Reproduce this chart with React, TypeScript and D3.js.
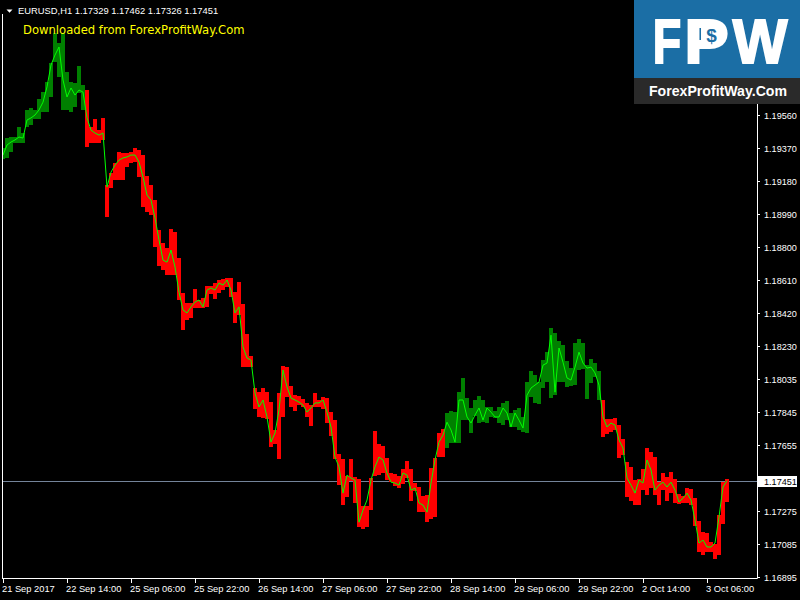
import React from "react";
import * as d3 from "d3";

// ---- data (EURUSD H1) ----
const highs = [
  1.19370, 1.19427, 1.19433, 1.19433, 1.19491, 1.19456, 1.19589, 1.19600, 1.19589, 1.19652,
  1.19692, 1.19750, 1.19860, 1.20033, 1.19975, 1.20033, 1.19807, 1.19750, 1.19745, 1.19842,
  1.19733, 1.19704, 1.19491, 1.19537, 1.19473, 1.19543, 1.19156, 1.19225, 1.19283, 1.19346,
  1.19341, 1.19341, 1.19346, 1.19370, 1.19358, 1.19329, 1.19207, 1.19156, 1.19069, 1.18896,
  1.18822, 1.18793, 1.18902, 1.18884, 1.18735, 1.18533, 1.18476, 1.18476, 1.18556, 1.18493,
  1.18504, 1.18573, 1.18573, 1.18591, 1.18608, 1.18614, 1.18620, 1.18620, 1.18538, 1.18596,
  1.18470, 1.18296, 1.18169, 1.17985, 1.17961, 1.17985, 1.17961, 1.17904, 1.17743, 1.17956,
  1.18111, 1.18106, 1.17996, 1.17944, 1.17938, 1.17921, 1.17899, 1.17887, 1.17956, 1.17916,
  1.17933, 1.17927, 1.17846, 1.17800, 1.17604, 1.17575, 1.17477, 1.17575, 1.17472, 1.17460,
  1.17304, 1.17304, 1.17466, 1.17737, 1.17662, 1.17650, 1.17581, 1.17495, 1.17489, 1.17477,
  1.17518, 1.17564, 1.17518, 1.17437, 1.17414, 1.17361, 1.17367, 1.17524, 1.17581, 1.17726,
  1.17748, 1.17841, 1.17852, 1.17846, 1.17961, 1.18043, 1.17927, 1.17870, 1.17916, 1.17938,
  1.17916, 1.17876, 1.17876, 1.17852, 1.17876, 1.17899, 1.17910, 1.17841, 1.17858, 1.17870,
  1.17818, 1.18019, 1.18083, 1.18060, 1.18019, 1.18146, 1.18192, 1.18331, 1.18302, 1.18256,
  1.18233, 1.18140, 1.18100, 1.18245, 1.18267, 1.18245, 1.18117, 1.18152, 1.18129, 1.18083,
  1.17916, 1.17806, 1.17806, 1.17812, 1.17771, 1.17691, 1.17558, 1.17530, 1.17454, 1.17460,
  1.17518, 1.17639, 1.17615, 1.17587, 1.17442, 1.17495, 1.17472, 1.17500, 1.17460, 1.17373,
  1.17361, 1.17408, 1.17402, 1.17350, 1.17217, 1.17154, 1.17149, 1.17096, 1.17085, 1.17252,
  1.17442, 1.17462,
];

const lows = [
  1.19306, 1.19312, 1.19346, 1.19399, 1.19399, 1.19399, 1.19491, 1.19502, 1.19537, 1.19537,
  1.19577, 1.19577, 1.19664, 1.19865, 1.19779, 1.19589, 1.19589, 1.19577, 1.19606, 1.19687,
  1.19589, 1.19376, 1.19399, 1.19399, 1.19399, 1.19416, 1.18972, 1.19139, 1.19185, 1.19185,
  1.19185, 1.19260, 1.19283, 1.19288, 1.19202, 1.19029, 1.19000, 1.18983, 1.18799, 1.18688,
  1.18666, 1.18637, 1.18637, 1.18637, 1.18493, 1.18319, 1.18377, 1.18389, 1.18447, 1.18447,
  1.18447, 1.18453, 1.18527, 1.18498, 1.18533, 1.18550, 1.18568, 1.18510, 1.18360, 1.18406,
  1.18106, 1.18106, 1.18106, 1.17864, 1.17818, 1.17812, 1.17806, 1.17645, 1.17662, 1.17575,
  1.17818, 1.17933, 1.17876, 1.17852, 1.17887, 1.17876, 1.17818, 1.17765, 1.17876, 1.17876,
  1.17864, 1.17783, 1.17708, 1.17575, 1.17425, 1.17310, 1.17356, 1.17448, 1.17322, 1.17183,
  1.17171, 1.17183, 1.17281, 1.17477, 1.17483, 1.17495, 1.17454, 1.17442, 1.17419, 1.17408,
  1.17431, 1.17466, 1.17333, 1.17390, 1.17269, 1.17269, 1.17211, 1.17229, 1.17241, 1.17587,
  1.17587, 1.17639, 1.17668, 1.17668, 1.17668, 1.17800, 1.17800, 1.17726, 1.17823, 1.17783,
  1.17788, 1.17783, 1.17818, 1.17812, 1.17783, 1.17771, 1.17800, 1.17760, 1.17760, 1.17743,
  1.17731, 1.17726, 1.17933, 1.17899, 1.17893, 1.17985, 1.18019, 1.17927, 1.17944, 1.18019,
  1.18019, 1.17991, 1.17996, 1.18002, 1.18089, 1.18094, 1.17921, 1.18014, 1.18049, 1.17916,
  1.17703, 1.17720, 1.17731, 1.17743, 1.17581, 1.17598, 1.17356, 1.17333, 1.17310, 1.17310,
  1.17396, 1.17367, 1.17408, 1.17367, 1.17310, 1.17396, 1.17333, 1.17379, 1.17322, 1.17316,
  1.17322, 1.17322, 1.17310, 1.17188, 1.17038, 1.17021, 1.17038, 1.17038, 1.16998, 1.17021,
  1.17200, 1.17326,
];

const trendLine = [
  1.19329, 1.19387, 1.19404, 1.19416, 1.19433, 1.19427, 1.19531, 1.19543, 1.19560, 1.19589,
  1.19634, 1.19722, 1.19848, 1.19906, 1.19952, 1.19762, 1.19664, 1.19716, 1.19675, 1.19704,
  1.19692, 1.19543, 1.19473, 1.19456, 1.19444, 1.19456, 1.19145, 1.19230, 1.19271, 1.19300,
  1.19312, 1.19318, 1.19329, 1.19329, 1.19288, 1.19202, 1.19098, 1.19069, 1.18966, 1.18839,
  1.18723, 1.18711, 1.18781, 1.18683, 1.18538, 1.18435, 1.18418, 1.18453, 1.18481, 1.18493,
  1.18453, 1.18550, 1.18562, 1.18550, 1.18591, 1.18579, 1.18608, 1.18550, 1.18418, 1.18453,
  1.18222, 1.18158, 1.18146, 1.17956, 1.17876, 1.17916, 1.17818, 1.17673, 1.17726, 1.17858,
  1.18089, 1.17991, 1.17927, 1.17916, 1.17904, 1.17887, 1.17846, 1.17870, 1.17899, 1.17899,
  1.17916, 1.17846, 1.17760, 1.17587, 1.17530, 1.17379, 1.17483, 1.17466, 1.17454, 1.17211,
  1.17281, 1.17339, 1.17454, 1.17530, 1.17587, 1.17570, 1.17495, 1.17442, 1.17437, 1.17425,
  1.17495, 1.17483, 1.17396, 1.17408, 1.17322, 1.17310, 1.17269, 1.17437, 1.17570, 1.17673,
  1.17714, 1.17788, 1.17743, 1.17673, 1.17916, 1.17916, 1.17818, 1.17783, 1.17829, 1.17870,
  1.17800, 1.17870, 1.17846, 1.17818, 1.17818, 1.17870, 1.17841, 1.17760, 1.17841, 1.17800,
  1.17754, 1.17944, 1.17985, 1.18002, 1.18019, 1.18117, 1.18129, 1.18290, 1.17961, 1.18216,
  1.18134, 1.18043, 1.18031, 1.18106, 1.18192, 1.18129, 1.18100, 1.18106, 1.18072, 1.18002,
  1.17818, 1.17760, 1.17783, 1.17771, 1.17685, 1.17639, 1.17466, 1.17425, 1.17379, 1.17454,
  1.17437, 1.17570, 1.17512, 1.17396, 1.17425, 1.17442, 1.17414, 1.17442, 1.17396, 1.17327,
  1.17350, 1.17379, 1.17339, 1.17223, 1.17091, 1.17108, 1.17068, 1.17068, 1.17091, 1.17241,
  1.17414, 1.17451,
];

// bar index ranges coloured as up-trend (green); the rest are down-trend (red)
const upTrendRanges = [
  [0, 20],
  [111, 149],
];

const timeLabels = [
  "21 Sep 2017", "22 Sep 14:00", "25 Sep 06:00", "25 Sep 22:00", "26 Sep 14:00", "27 Sep 06:00",
  "27 Sep 22:00", "28 Sep 14:00", "29 Sep 06:00", "29 Sep 22:00", "2 Oct 14:00", "3 Oct 06:00",
];
const labelEvery = 16;

const priceTicks = [
  1.1956, 1.1937, 1.1918, 1.1899, 1.188, 1.1861, 1.1842, 1.1823, 1.18035, 1.17845, 1.17655,
  1.17465, 1.17275, 1.17085, 1.16895,
];
const lastPrice = 1.17451;
const headerText = "EURUSD,H1  1.17329 1.17462 1.17326 1.17451";
const watermark = "Downloaded from ForexProfitWay.Com";

// ---- layout ----
const W = 800;
const H = 600;
const plotLeft = 2;
const plotRight = 757;
const plotBottom = 578;
const FONT = "'Liberation Sans', Arial, sans-serif";
const LOGO_BLUE = "#1b6ea5";

export default function App() {
  const x = d3.scaleLinear().domain([0, highs.length - 1]).range([3, 3 + 4 * (highs.length - 1)]);
  const y = d3.scaleLinear().domain([1.16895, 1.1956]).range([577, 115]);

  const isUp = (i: number) => upTrendRanges.some(([a, b]) => i >= a && i <= b);

  const linePath =
    d3
      .line<number>()
      .x((_, i) => x(i))
      .y((d) => y(d))(trendLine) || "";

  const lastY = Math.round(y(lastPrice)) + 0.5;

  const logoLetters = [
    { ch: "F", cx: 667, sx: 0.74 },
    { ch: "P", cx: 706.5, sx: 1.06 },
    { ch: "W", cx: 760, sx: 0.92 },
  ];

  return (
    <svg
      width={W}
      height={H}
      style={{ position: "fixed", left: 0, top: 0, background: "#000", display: "block" }}
    >
      <defs>
        <clipPath id="plotClip">
          <rect x={plotLeft + 1} y={0} width={plotRight - plotLeft - 1} height={plotBottom} />
        </clipPath>
      </defs>
      <rect x={0} y={0} width={W} height={H} fill="#000" />

      {/* price grid labels */}
      {priceTicks.map((p) => {
        const ty = Math.round(y(p)) + 0.5;
        return (
          <g key={p}>
            <line x1={plotRight} x2={plotRight + 3} y1={ty} y2={ty} stroke="#fff" strokeWidth={1} />
            <text x={764} y={ty + 3.2} fill="#fff" fontSize={9.1} fontFamily={FONT}>
              {p.toFixed(5)}
            </text>
          </g>
        );
      })}

      {/* current price line */}
      <line x1={plotLeft} x2={plotRight} y1={lastY} y2={lastY} stroke="#74849a" strokeWidth={1} />

      {/* bars */}
      <g clipPath="url(#plotClip)" shapeRendering="crispEdges">
        {highs.map((h, i) => {
          const top = Math.round(y(h));
          const bot = Math.round(y(lows[i]));
          return (
            <rect
              key={i}
              x={x(i) - 2}
              y={top}
              width={4}
              height={Math.max(1, bot - top)}
              fill={isUp(i) ? "#008000" : "#ff0000"}
            />
          );
        })}
      </g>
      <path d={linePath} fill="none" stroke="#00ff00" strokeWidth={1} clipPath="url(#plotClip)" />

      {/* frame */}
      <line x1={plotLeft + 0.5} x2={plotLeft + 0.5} y1={14} y2={plotBottom + 0.5} stroke="#fff" />
      <line x1={plotLeft} x2={plotRight + 0.5} y1={plotBottom + 0.5} y2={plotBottom + 0.5} stroke="#fff" />
      <line x1={plotRight + 0.5} x2={plotRight + 0.5} y1={104} y2={plotBottom + 0.5} stroke="#fff" />

      {/* time axis */}
      {timeLabels.map((lab, k) => {
        const tx = Math.round(x(k * labelEvery)) + 0.5;
        return (
          <g key={lab}>
            <line x1={tx} x2={tx} y1={plotBottom + 1} y2={plotBottom + 5} stroke="#fff" />
            <text x={tx - 1.5} y={591.5} fill="#fff" fontSize={9.3} fontFamily={FONT}>
              {lab}
            </text>
          </g>
        );
      })}

      {/* current price box */}
      <rect x={plotRight + 1} y={lastY - 5.5} width={39} height={11} fill="#fff" />
      <text x={764} y={lastY + 3.2} fill="#000" fontSize={9.1} fontFamily={FONT}>
        {lastPrice.toFixed(5)}
      </text>

      {/* header */}
      <path d="M6.5,9.5 L12.5,9.5 L9.5,12.8 Z" fill="#fff" />
      <text x={18} y={14} fill="#fff" fontSize={9.4} fontFamily={FONT}>
        {headerText}
      </text>
      <text x={23} y={34} fill="#ffff00" fontSize={11.6} fontFamily="'DejaVu Sans', sans-serif">
        {watermark}
      </text>

      {/* logo */}
      <g>
        <rect x={634} y={0} width={166} height={78} fill={LOGO_BLUE} />
        <rect x={634} y={78} width={166} height={26} fill="#2a2a2a" />
        {logoLetters.map((l) => (
          <text
            key={l.ch}
            transform={`translate(${l.cx},63) scale(${l.sx},1)`}
            textAnchor="middle"
            fill="#fff"
            stroke="#fff"
            strokeWidth={2}
            fontSize={63}
            fontWeight="bold"
            fontFamily={FONT}
          >
            {l.ch}
          </text>
        ))}
        <rect x={701} y={21} width={20} height={26} rx={6} fill="#fff" />
        <text
          x={711.5}
          y={42}
          fill={LOGO_BLUE}
          fontSize={19}
          fontWeight="bold"
          fontFamily={FONT}
          textAnchor="middle"
        >
          $
        </text>
        <text
          x={649}
          y={96}
          fill="#fff"
          fontSize={14}
          fontWeight="bold"
          fontFamily={FONT}
          textLength={138}
          lengthAdjust="spacingAndGlyphs"
        >
          ForexProfitWay.Com
        </text>
      </g>
    </svg>
  );
}
